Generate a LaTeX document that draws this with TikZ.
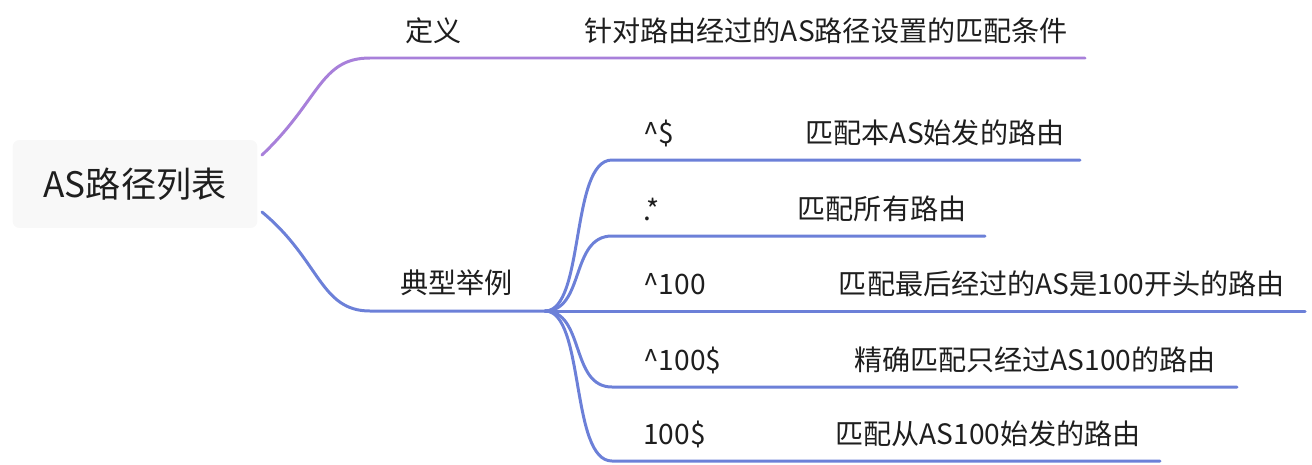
\documentclass[tikz,border=0pt]{standalone}
\usepackage{fontspec}
\setmainfont{Noto Sans CJK SC}
\usetikzlibrary{positioning}
\definecolor{rootfill}{RGB}{248,248,248}
\definecolor{defline}{RGB}{168,128,218}
\definecolor{exline}{RGB}{108,128,216}
\definecolor{dark}{RGB}{30,30,30}
\tikzset{
    rootbox/.style={rectangle, rounded corners=4pt, fill=rootfill, minimum width=4.9cm, minimum height=1.76cm, font=\fontsize{20}{24}\selectfont, text=dark},
    label/.style={font=\fontsize{16}{19}\selectfont, text=dark, inner sep=0pt},
    branch/.style={line width=1.7pt, line cap=round}
}
\begin{document}
\begin{tikzpicture}[x=0.02cm, y=-0.02cm]
    \useasboundingbox (0,0) rectangle (1312,464);
    % root
    \node[rootbox] (root) at (135,184) {AS路径列表};
    \coordinate (rtop) at (262,155);
    \coordinate (rbot) at (262,212);

    % definition branch
    \coordinate (defknee) at (370,58);
    \coordinate (defend) at (1085,58);
    \draw[branch, defline] (rtop) .. controls (320,100) and (320,58) .. (defknee) -- (defend);
    \node[label, anchor=west] (defname) at (405,31) {定义};
    \node[label] (deftext) at (826,31) {针对路由经过的AS路径设置的匹配条件};

    % examples branch
    \coordinate (exknee) at (370,311);
    \coordinate (exhub) at (545,311);
    \draw[branch, exline] (rbot) .. controls (320,260) and (320,311) .. (exknee) -- (exhub);
    \node[label, anchor=west] (exname) at (400,283) {典型举例};

    % typical examples
    \foreach \y/\e/\key/\dx/\desc [count=\i] in {
        160/1080/{\textasciicircum\$}/935/{匹配本AS始发的路由},
        236/985/{.*}/882/{匹配所有路由},
        311/1305/{\textasciicircum 100}/1062/{匹配最后经过的AS是100开头的路由},
        387/1237/{\textasciicircum 100\$}/1035/{精确匹配只经过AS100的路由},
        461/1160/{100\$}/988/{匹配从AS100始发的路由}}
    {
        \coordinate (knee\i) at (612,\y);
        \coordinate (end\i) at (\e,\y);
        \draw[branch, exline] (exhub) .. controls (585,311) and (570,\y) .. (knee\i) -- (end\i);
        \node[label, anchor=west] (key\i) at (643,\y-27) {\key};
        \node[label] (desc\i) at (\dx,\y-27) {\desc};
    }
\end{tikzpicture}
\end{document}
